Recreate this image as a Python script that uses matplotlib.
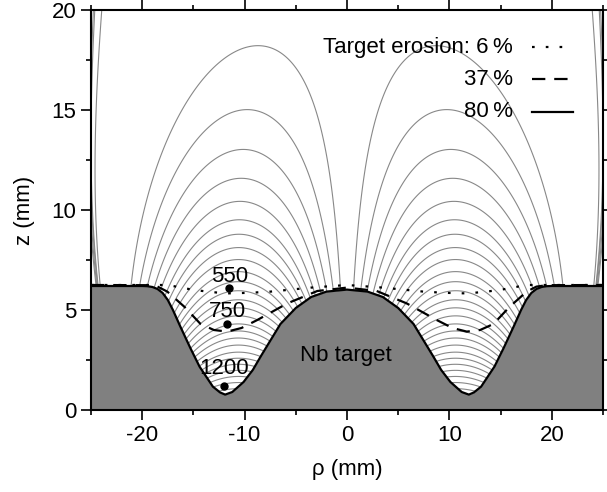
import numpy as np
import matplotlib.pyplot as plt
from matplotlib.ticker import MultipleLocator

plt.rcParams['font.family'] = ['Liberation Sans', 'DejaVu Sans']
plt.rcParams['axes.unicode_minus'] = False

# -------------------------------------------------------
#   target profiles (left half; mirrored)
# -------------------------------------------------------
target_x = [-25, -20, -19.5, -19, -18.5, -18, -17.5, -17, -16.3, -15.3, -14.4, -13.1,
            -12.4, -11.9, -11.2, -10.1, -9.2, -8.4, -6.5, -5.0, -3.5, -2.0, 0]
target_z = [6.2, 6.2, 6.19, 6.15, 6.05, 5.85, 5.5, 5.0, 4.2, 3.1, 2.17, 1.17,
            0.88, 0.77, 0.9, 1.4, 2.0, 2.7, 4.3, 5.1, 5.65, 5.92, 6.02]

eros37_x = [-25, -19.5, -18.5, -17.55, -15.9, -14.3, -13.0, -11.7, -10.3, -8.76, -5.83, -2.9, 0]
eros37_z = [6.25, 6.24, 6.17, 5.92, 5.17, 4.3, 4.0, 3.92, 4.1, 4.5, 5.33, 5.95, 6.12]

eros6_x = [-25, -17.5, -16.2, -14.9, -13.3, -11.7, -9.5, -7.45, -3.5, 0]
eros6_z = [6.25, 6.25, 6.12, 6.0, 5.9, 5.83, 5.86, 5.92, 6.12, 6.25]

# field lines: anchor points each line passes through (left half)
arch_apex_x = -9.2
arch_apex_z = [18.2, 15.0, 12.97, 11.5, 10.33, 9.4, 8.67, 8.0, 7.4]
groove_x = -12.0
groove_z = [6.8, 6.3, 5.85, 5.4, 5.0, 4.6, 4.2, 3.85, 3.5, 3.15, 2.8, 2.5, 2.2, 1.9, 1.6, 1.3, 1.0]
edge_x = -25.0
edge_z = [13.85, 11.0, 9.65, 8.85]
top_x = [-23.95]
top_z = 20.0

# temperature points
pt_x = [-11.5, -11.7, -12.0]
pt_z = [6.08, 4.28, 1.22]
pt_lab = ['550', '750', '1200']
lab_z = [6.67, 4.92, 2.08]

# magnet model used for the field-line shapes (2D strips of magnetic charge)
w0, a, w1, d, s = 2.0, 20.5, 2.5, 2.0, 0.63


def F(u, h):
    return 0.5 * np.pi * u - u * np.arctan(u / h) + 0.5 * h * np.log(u * u + h * h)


def strip(x, z, s1, s2):
    h = z + d
    return F(x - s1, h) - F(x - s2, h)


def psi(x, z):
    return (strip(x, z, -w0, w0) - s * strip(x, z, -a - w1, -a + w1)
            - s * strip(x, z, a - w1, a + w1))


xs = np.linspace(-25, 0, 500)
zs = np.linspace(0, 20, 400)
X, Z = np.meshgrid(xs, zs)
P = psi(X, Z)

levels = [psi(arch_apex_x, zz) for zz in arch_apex_z]
levels += [psi(groove_x, zz) for zz in groove_z]
levels += [psi(edge_x, zz) for zz in edge_z]
levels += [psi(xx, top_z) for xx in top_x]
levels = np.unique(np.round(levels, 10))

fig = plt.figure(figsize=(6.07, 4.92), dpi=100)
ax = fig.add_axes([91 / 607, 82 / 492, 512 / 607, 400 / 492])

for sign in (1, -1):
    ax.contour(sign * X, Z, P, levels=levels, colors='#888888', linewidths=0.8,
               negative_linestyles='solid', zorder=1)

tx = np.array(target_x)
tz = np.array(target_z)
full_x = np.concatenate([tx, -tx[::-1][1:]])
full_z = np.concatenate([tz, tz[::-1][1:]])
ax.fill_between(full_x, 0, full_z, color='#808080', lw=0, zorder=2)
ax.plot(full_x, full_z, color='black', lw=1.6, zorder=3)

ex = np.array(eros37_x)
ez = np.array(eros37_z)
ax.plot(np.concatenate([ex, -ex[::-1][1:]]), np.concatenate([ez, ez[::-1][1:]]),
        color='black', lw=1.6, dashes=(6, 4), zorder=3)
ex = np.array(eros6_x)
ez = np.array(eros6_z)
ax.plot(np.concatenate([ex, -ex[::-1][1:]]), np.concatenate([ez, ez[::-1][1:]]),
        color='black', lw=1.6, dashes=(1.2, 5), zorder=3)

ax.plot(pt_x, pt_z, 'o', color='black', ms=5, zorder=4)
for xx, zz, lab in zip(pt_x, lab_z, pt_lab):
    ax.text(xx, zz, lab, ha='center', va='center', fontsize=16, zorder=4)
ax.text(-0.1, 2.75, 'Nb target', ha='center', va='center', fontsize=16, zorder=4)

# legend
leg_rows = [('Target erosion: 6\u2009%', (1.2, 5)), ('37\u2009%', (6, 4)), ('80\u2009%', None)]
for i, (txt, ds) in enumerate(leg_rows):
    yy = 0.9075 - i * 0.081
    ax.text(0.824, yy, txt, transform=ax.transAxes, ha='right', va='center', fontsize=16)
    ln, = ax.plot([0.861, 0.941], [yy, yy], transform=ax.transAxes, color='black', lw=1.6)
    if ds:
        ln.set_dashes(ds)

ax.set_xlim(-25, 25)
ax.set_ylim(0, 20)
ax.xaxis.set_major_locator(MultipleLocator(10))
ax.xaxis.set_minor_locator(MultipleLocator(5))
ax.yaxis.set_major_locator(MultipleLocator(5))
ax.yaxis.set_minor_locator(MultipleLocator(2.5))
ax.tick_params(which='both', direction='out', top=True, right=True, width=1.2,
               labelsize=16, labeltop=False, labelright=False)
ax.tick_params(which='major', length=7)
ax.tick_params(which='minor', length=3.5)
for sp in ax.spines.values():
    sp.set_linewidth(1.5)
ax.set_xlabel('\u03c1 (mm)', fontsize=16, labelpad=10)
ax.set_ylabel('z (mm)', fontsize=16, labelpad=12)

fig.savefig('out.png', dpi=100)
